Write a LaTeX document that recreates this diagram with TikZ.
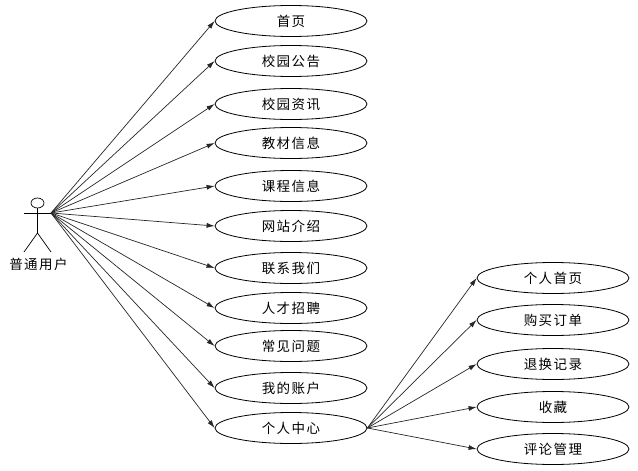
\documentclass[tikz,border=0pt]{standalone}
\usepackage{fontspec}
\setmainfont{Noto Sans CJK SC}[LetterSpace=11]
\usetikzlibrary{arrows.meta,shapes.geometric}
\tikzset{
  labelfont/.style={font=\fontsize{13.5}{15}\selectfont,text=black},
  usecase/.style={draw=black,line width=0.8pt,ellipse,minimum width=152pt,minimum height=31pt,inner sep=0pt,labelfont},
  link/.style={draw=black!85,line width=0.7pt,-{Latex[length=8pt,width=5pt]}},
  limb/.style={draw=black,line width=0.7pt}
}
\begin{document}
\begin{tikzpicture}[x=1pt,y=-1pt]
\useasboundingbox (0,0) rectangle (638,471);
\node[usecase] (a1) at (291,21) {首页};
\node[usecase] (a2) at (291,61) {校园公告};
\node[usecase] (a3) at (291,104) {校园资讯};
\node[usecase] (a4) at (291,143) {教材信息};
\node[usecase] (a5) at (291,186) {课程信息};
\node[usecase] (a6) at (291,226) {网站介绍};
\node[usecase] (a7) at (291,268) {联系我们};
\node[usecase] (a8) at (291,308) {人才招聘};
\node[usecase] (a9) at (291,346) {常见问题};
\node[usecase] (a10) at (291,388) {我的账户};
\node[usecase] (a11) at (291,428) {个人中心};
\node[usecase] (b1) at (553,278) {个人首页};
\node[usecase] (b2) at (553,320) {购买订单};
\node[usecase] (b3) at (553,364) {退换记录};
\node[usecase] (b4) at (553,407) {收藏};
\node[usecase] (b5) at (553,449) {评论管理};
% actor
\node[draw=black,line width=0.7pt,ellipse,minimum width=13pt,minimum height=10pt,inner sep=0pt] (head) at (37.5,203) {};
\coordinate (hand) at (51,213);
\coordinate (lhand) at (24,213);
\coordinate (hip) at (37.5,233);
\coordinate (lfoot) at (24,252);
\coordinate (rfoot) at (51,252);
\draw[limb] (head.south) -- (hip);
\draw[limb] (lhand) -- (hand);
\draw[limb] (lfoot) -- (hip) -- (rfoot);
\node[labelfont,inner sep=0pt] (actorlabel) at (38.5,264) {普通用户};
\foreach \n in {a1,a2,a3,a4,a5,a6,a7,a8,a9,a10,a11}
  \draw[link] (hand) -- (\n.west);
\foreach \n in {b1,b2,b3,b4,b5}
  \draw[link] (a11.east) -- (\n.west);
\end{tikzpicture}
\end{document}
